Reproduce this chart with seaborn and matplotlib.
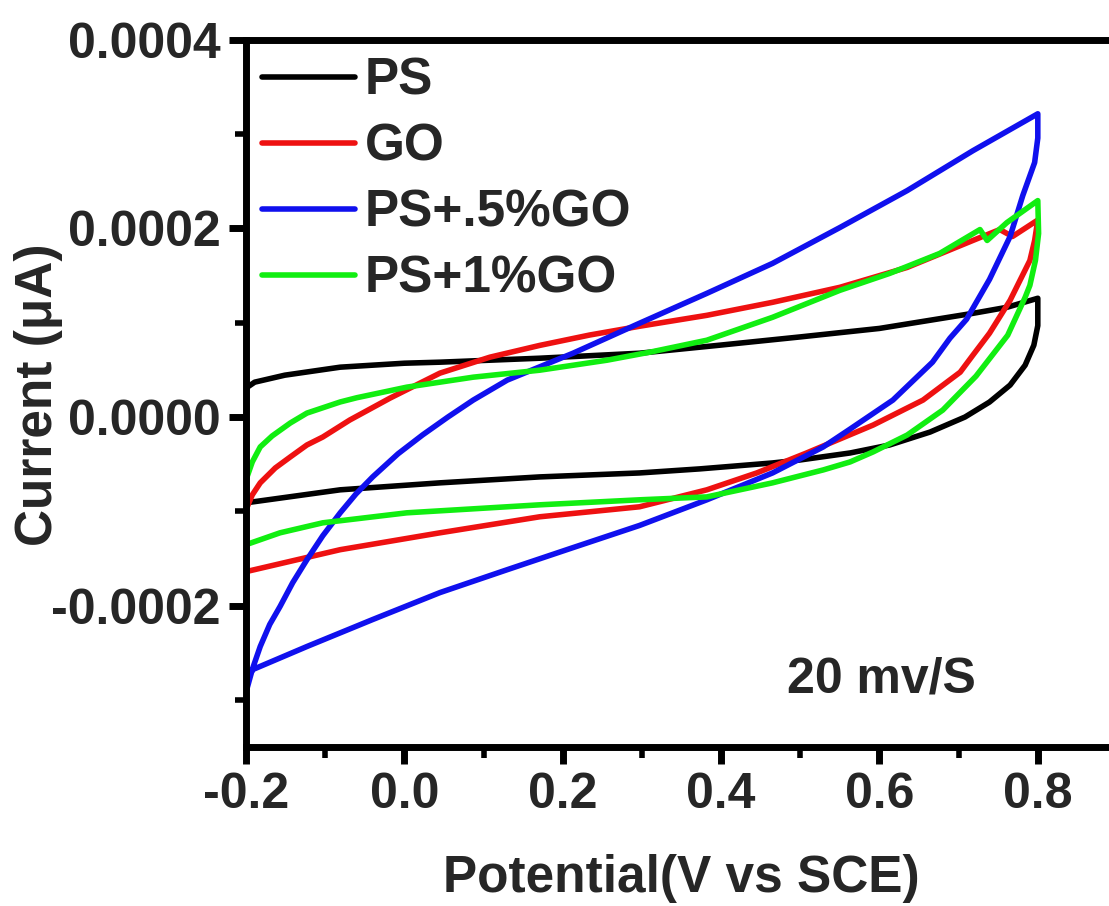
import matplotlib
matplotlib.use("Agg")
import matplotlib.pyplot as plt
import pandas as pd
import seaborn as sns
from matplotlib.ticker import MultipleLocator, FormatStrFormatter

# Cyclic voltammograms at 20 mV/s: each loop is the anodic sweep (-0.2 -> 0.8 V)
# followed by the cathodic sweep back to -0.2 V.
samples = ["PS", "GO", "PS+.5%GO", "PS+1%GO"]
colors = ["#000000", "#ee1111", "#1010ee", "#11ee11"]

ps_potential = [-0.2, -0.189, -0.151, -0.081, 0.0, 0.045, 0.171, 0.297, 0.398, 0.5, 0.6, 0.718, 0.761, 0.8,
                0.8, 0.795, 0.784, 0.765, 0.739, 0.708, 0.664, 0.613, 0.563, 0.5, 0.465, 0.373, 0.297, 0.171, 0.045, -0.081, -0.2]
ps_current = [3.07e-5, 3.7e-5, 4.44e-5, 5.29e-5, 5.71e-5, 5.82e-5, 6.24e-5, 6.77e-5, 7.62e-5, 8.5e-5, 9.4e-5, 1.10e-4, 1.164e-4, 1.26e-4,
              9.7e-5, 7.62e-5, 5.5e-5, 3.39e-5, 1.59e-5, 0.0, -1.59e-5, -2.96e-5, -3.81e-5, -4.55e-5, -4.87e-5, -5.5e-5, -5.93e-5, -6.35e-5, -6.98e-5, -7.72e-5, -9.1e-5]

go_potential = [-0.2, -0.192, -0.182, -0.163, -0.144, -0.123, -0.103, -0.069, -0.018, 0.045, 0.108, 0.171, 0.234, 0.297, 0.382, 0.465, 0.55, 0.635, 0.718, 0.752, 0.768, 0.8,
                0.796, 0.79, 0.765, 0.739, 0.718, 0.702, 0.655, 0.592, 0.571, 0.508, 0.445, 0.382, 0.297, 0.171, 0.045, -0.081, -0.2]
go_current = [-9.84e-5, -8.25e-5, -6.98e-5, -5.4e-5, -4.23e-5, -2.96e-5, -2.12e-5, -3.2e-6, 2.01e-5, 4.66e-5, 6.35e-5, 7.6e-5, 8.7e-5, 9.63e-5, 1.079e-4, 1.217e-4, 1.376e-4, 1.587e-4, 1.873e-4, 1.989e-4, 1.915e-4, 2.09e-4,
              1.873e-4, 1.661e-4, 1.238e-4, 8.89e-5, 6.56e-5, 4.76e-5, 1.80e-5, -8.5e-6, -1.59e-5, -3.81e-5, -5.93e-5, -7.72e-5, -9.52e-5, -1.058e-4, -1.228e-4, -1.407e-4, -1.64e-4]

ps05_potential = [-0.2, -0.192, -0.182, -0.17, -0.157, -0.141, -0.123, -0.103, -0.081, -0.061, -0.04, -0.008, 0.023, 0.055, 0.087, 0.13, 0.213, 0.297, 0.382, 0.465, 0.55, 0.635, 0.718, 0.8,
                  0.8, 0.796, 0.781, 0.765, 0.739, 0.71, 0.689, 0.667, 0.617, 0.563, 0.529, 0.465, 0.382, 0.297, 0.213, 0.13, 0.045, -0.04, -0.123, -0.191, -0.2]
ps05_current = [-2.92e-4, -2.677e-4, -2.434e-4, -2.2e-4, -2.01e-4, -1.757e-4, -1.513e-4, -1.259e-4, -1.016e-4, -8.15e-5, -6.35e-5, -3.9e-5, -1.9e-5, 0.0, 1.8e-5, 3.92e-5, 6.77e-5, 9.95e-5, 1.312e-4, 1.63e-4, 2.01e-4, 2.402e-4, 2.825e-4, 3.217e-4,
                2.96e-4, 2.7e-4, 2.349e-4, 1.915e-4, 1.46e-4, 1.037e-4, 8.36e-5, 5.82e-5, 1.8e-5, -1.27e-5, -3.17e-5, -5.93e-5, -8.78e-5, -1.15e-4, -1.385e-4, -1.619e-4, -1.862e-4, -2.148e-4, -2.434e-4, -2.677e-4, -2.78e-4]

ps1_potential = [-0.2, -0.192, -0.182, -0.167, -0.144, -0.123, -0.081, -0.06, 0.003, 0.087, 0.171, 0.256, 0.31, 0.382, 0.465, 0.55, 0.613, 0.676, 0.727, 0.736, 0.761, 0.8,
                 0.801, 0.797, 0.79, 0.784, 0.762, 0.722, 0.68, 0.635, 0.592, 0.563, 0.529, 0.465, 0.382, 0.297, 0.171, 0.003, -0.103, -0.157, -0.2]
ps1_current = [-6.67e-5, -4.76e-5, -3.17e-5, -2.01e-5, -6.3e-6, 4.2e-6, 1.6e-5, 2.05e-5, 3.17e-5, 4.23e-5, 4.97e-5, 6.03e-5, 6.88e-5, 8.15e-5, 1.058e-4, 1.344e-4, 1.524e-4, 1.735e-4, 1.989e-4, 1.873e-4, 2.063e-4, 2.296e-4,
               1.947e-4, 1.661e-4, 1.397e-4, 1.27e-4, 8.68e-5, 4.34e-5, 7.4e-6, -1.91e-5, -3.7e-5, -4.76e-5, -5.61e-5, -6.98e-5, -8.47e-5, -8.78e-5, -9.31e-5, -1.016e-4, -1.122e-4, -1.228e-4, -1.354e-4]

x_ticks = [-0.2, 0.0, 0.2, 0.4, 0.6, 0.8]
y_ticks = [-0.0002, 0.0, 0.0002, 0.0004]

potentials = [ps_potential, go_potential, ps05_potential, ps1_potential]
currents = [ps_current, go_current, ps05_current, ps1_current]
frames = []
for name, pot, cur in zip(samples, potentials, currents):
    frames.append(pd.DataFrame({"Potential": pot, "Current": cur, "Sample": name}))
df = pd.concat(frames, ignore_index=True)

sns.set_theme(style="ticks")
plt.rcParams["font.family"] = ["Liberation Sans", "DejaVu Sans"]
plt.rcParams["font.weight"] = "bold"
plt.rcParams["axes.unicode_minus"] = False

fig = plt.figure(figsize=(11.09, 9.06), dpi=100)
ax = fig.add_axes([0.2218, 0.1755, 0.7854, 0.7804])

sns.lineplot(data=df, x="Potential", y="Current", hue="Sample", hue_order=samples,
             palette=colors, sort=False, estimator=None, linewidth=4,
             solid_joinstyle="round", solid_capstyle="round", ax=ax)

ax.set_xlim(-0.2, 0.9)
ax.set_ylim(-0.00035, 0.0004)
ax.set_xticks(x_ticks)
ax.set_yticks(y_ticks)
ax.xaxis.set_minor_locator(MultipleLocator(0.1))
ax.yaxis.set_minor_locator(MultipleLocator(0.0001))
ax.xaxis.set_major_formatter(FormatStrFormatter("%.1f"))
ax.yaxis.set_major_formatter(FormatStrFormatter("%.4f"))

for side in ["left", "right", "top", "bottom"]:
    ax.spines[side].set_linewidth(5)
    ax.spines[side].set_color("black")

ax.tick_params(which="major", direction="out", length=12, width=5, labelsize=36, pad=6, color="black")
ax.tick_params(which="minor", direction="out", length=8, width=4, color="black")
for lbl in ax.get_xticklabels() + ax.get_yticklabels():
    lbl.set_fontweight("bold")

ax.set_xlabel("Potential(V vs SCE)", fontsize=37, fontweight="bold")
ax.set_ylabel("Current (μA)", fontsize=37, fontweight="bold")
ax.xaxis.label.set_verticalalignment("center")
ax.yaxis.label.set_verticalalignment("center")
ax.xaxis.set_label_coords(0.5, -0.186)
ax.yaxis.set_label_coords(-0.238, 0.498)

ax.text(0.602, -0.000292, "20 mv/S", fontsize=36, fontweight="bold", ha="center", va="baseline")

old = ax.get_legend()
handles = old.legend_handles
labels = [t.get_text() for t in old.get_texts()]
for h in handles:
    h.set_linewidth(4)
ax.legend(handles, labels, loc="upper left", bbox_to_anchor=(0.018, 0.976), frameon=False,
          prop={"size": 37, "weight": "bold"}, handlelength=1.81, handletextpad=0.2,
          labelspacing=0.33, borderaxespad=0, borderpad=0)

fig.savefig("out.png", dpi=100)
